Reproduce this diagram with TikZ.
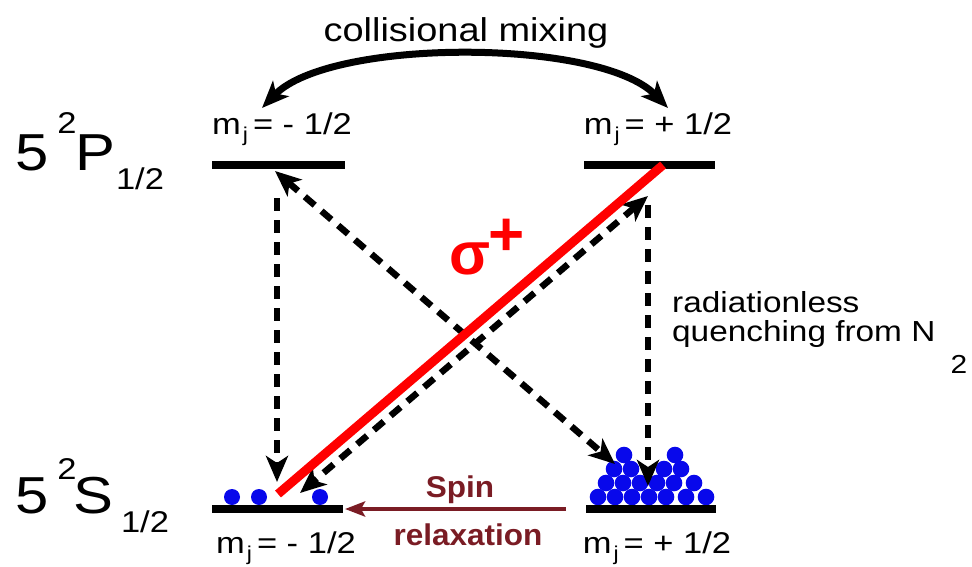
\documentclass[tikz,border=0pt]{standalone}
\usepackage{fontspec}
\setmainfont{Liberation Sans}
\newfontfamily\lf[FakeStretch=1.15]{Liberation Sans}
\newfontfamily\lfbold[FakeStretch=1.05]{Liberation Sans Bold}
\newfontfamily\lfsym{Liberation Sans Bold}
\usetikzlibrary{arrows.meta}
\definecolor{spinred}{RGB}{122,28,36}
\definecolor{dotblue}{RGB}{8,8,235}
\definecolor{laserred}{RGB}{255,0,0}
\newcommand{\fsz}[1]{\fontsize{#1}{#1}\selectfont}
\newcommand{\mjlab}[1]{m\hspace{2pt}\raisebox{-7pt}{\fsz{20}j}\hspace{5pt}= #1 1/2}
\begin{document}
\begin{tikzpicture}[x=1pt,y=-1pt,
  level/.style={line width=7.5pt},
  tipshape/.style={},
  dasharrow/.style={line width=6.5pt, dash pattern=on 13pt off 9pt,
     -{Stealth[length=26pt,width=22pt,inset=7pt]}},
  dbldash/.style={line width=6.5pt, dash pattern=on 13pt off 9pt,
     {Stealth[length=26pt,width=22pt,inset=7pt]}-{Stealth[length=26pt,width=22pt,inset=7pt]}},
  lab/.style={inner sep=0pt, anchor=base, font=\lf\fsz{30}},
  term/.style={inner sep=0pt, font=\lf\fsz{52}},
  termsub/.style={inner sep=0pt, font=\lf\fsz{30}},
  spinlab/.style={inner sep=0pt, anchor=base, text=spinred, font=\lfbold\fsz{30}},
  dot/.style={fill=dotblue}
]
\useasboundingbox (0,0) rectangle (972,567);

% level coordinates
\coordinate (pl1) at (212,165); \coordinate (pl2) at (345,165);
\coordinate (pr1) at (584,165); \coordinate (pr2) at (715,165);
\coordinate (sl1) at (212,509); \coordinate (sl2) at (343,509);
\coordinate (sr1) at (586,509); \coordinate (sr2) at (716,509);

% blue dots (population)
\foreach \x in {232,259,320} \fill[dot] (\x,497) circle (8pt);
\foreach \x in {598,615,632,649,666,686,706} \fill[dot] (\x,497) circle (8.3pt);
\foreach \x in {606,623,640,657,674,694} \fill[dot] (\x,483) circle (8.3pt);
\foreach \x in {614,631,664,681} \fill[dot] (\x,469) circle (8.3pt);
\foreach \x in {624,675} \fill[dot] (\x,455) circle (8.3pt);

% levels
\draw[level] (pl1) -- (pl2);
\draw[level] (pr1) -- (pr2);
\draw[level] (sl1) -- (sl2);
\draw[level] (sr1) -- (sr2);

% term labels
\node[term] (p5) at (32,153) {5};
\node[termsub] (p2) at (67,123) {2};
\node[term] (pP) at (95,153) {P};
\node[termsub] (ph) at (140,179) {1/2};
\node[term] (s5) at (32,496) {5};
\node[termsub] (s2) at (67,469) {2};
\node[term] (sS) at (93,496) {S};
\node[termsub] (sh) at (145,522) {1/2};

% m_j labels
\node[lab] (mpl) at (282,135) {\mjlab{-}};
\node[lab] (mpr) at (658,135) {\mjlab{+}};
\node[lab] (msl) at (286,553) {\mjlab{-}};
\node[lab] (msr) at (657,553) {\mjlab{+}};

% collisional mixing
\node[lab, font=\lf\fsz{33}] (cm) at (466,42) {collisional mixing};
\coordinate (cml) at (262,108);
\coordinate (cmr) at (668,108);
\draw[line width=7pt, {Stealth[length=27pt,width=22pt,inset=7pt]}-{Stealth[length=27pt,width=22pt,inset=7pt]}]
  (cml) .. controls (330,38) and (600,38) .. (cmr);

% dashed decays
\coordinate (vl1) at (277,198); \coordinate (vl2) at (277,482);
\coordinate (vr1) at (648,205); \coordinate (vr2) at (648,486);
\coordinate (d1a) at (275,171); \coordinate (d1b) at (615,464);
\coordinate (d2a) at (648,196); \coordinate (d2b) at (300,493);
\draw[dasharrow] (vl1) -- (vl2);
\draw[dasharrow] (vr1) -- (vr2);
\draw[dbldash] (d1a) -- (d1b);
\draw[dbldash] (d2a) -- (d2b);

% sigma+ pump
\coordinate (la) at (278,494); \coordinate (lb) at (663,165);
\draw[laserred, line width=9pt] (la) -- (lb);
\node[inner sep=0pt, text=laserred, font=\lfsym\fsz{60}] (sig) at (470,259) {σ};
\node[inner sep=0pt, text=laserred, font=\lfsym\fsz{62}] (plus) at (507,237) {+};

% radiationless quenching
\node[lab, anchor=base west, font=\lf\fsz{29}] (rq) at (672,312) {radiationless};
\node[lab, anchor=base west, font=\lf\fsz{29}] (qn) at (672,341) {quenching from N};
\node[inner sep=0pt, font=\lf\fsz{26}] (n2) at (959,364) {2};

% spin relaxation
\coordinate (sp1) at (566,509); \coordinate (sp2) at (345,509);
\draw[spinred, line width=4pt, -{Stealth[length=20pt,width=15pt,inset=4pt]}] (sp1) -- (sp2);
\node[spinlab] (spin) at (460,497) {Spin};
\node[spinlab] (relax) at (468,545) {relaxation};
\end{tikzpicture}
\end{document}
